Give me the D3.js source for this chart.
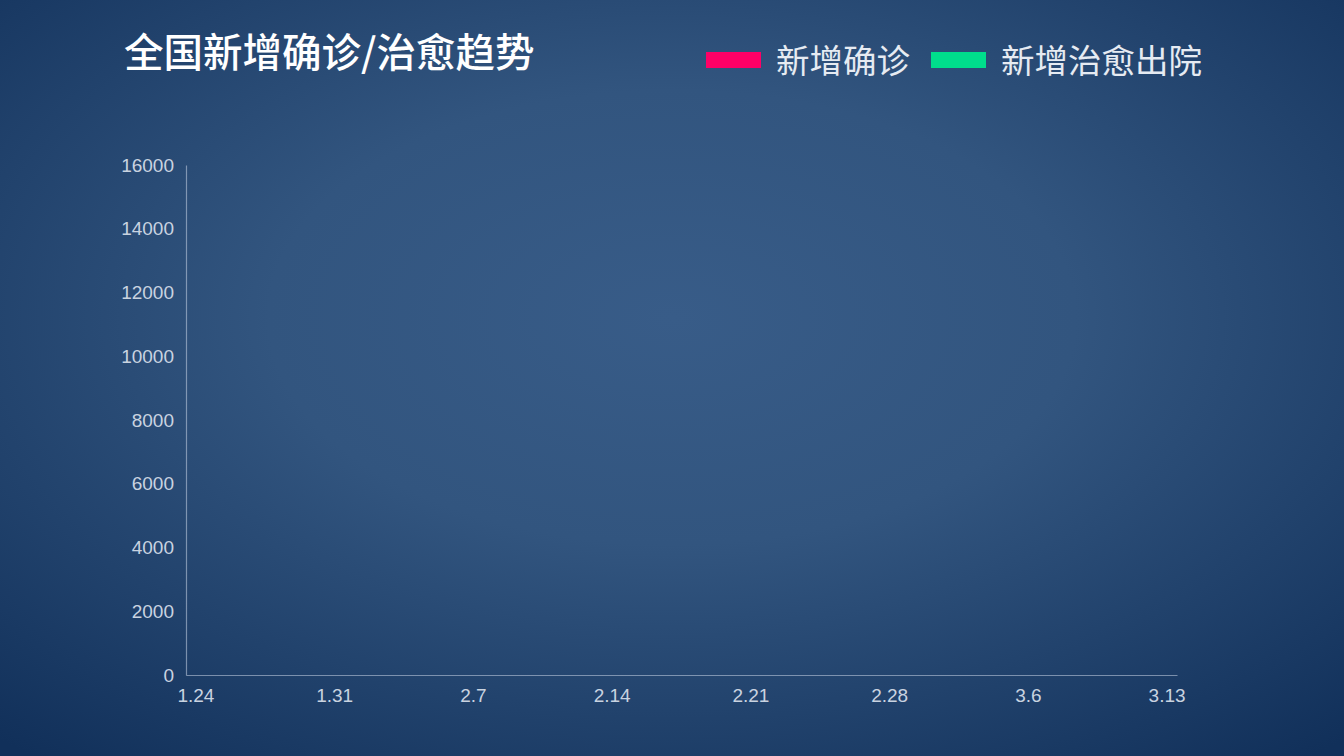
<!DOCTYPE html>
<html><head><meta charset="utf-8">
<script src="https://cdn.jsdelivr.net/npm/d3@7"></script>
<style>
html,body{margin:0;padding:0;width:1344px;height:756px;overflow:hidden;}
svg{display:block;}
</style></head>
<body>
<svg id="chart" width="1344" height="756"></svg>
<script>
const title = "全国新增确诊/治愈趋势";
const dates = ["1.24","1.25","1.26","1.27","1.28","1.29","1.30","1.31","2.1","2.2","2.3","2.4","2.5","2.6","2.7","2.8","2.9","2.10","2.11","2.12","2.13","2.14","2.15","2.16","2.17","2.18","2.19","2.20","2.21","2.22","2.23","2.24","2.25","2.26","2.27","2.28","2.29","3.1","3.2","3.3","3.4","3.5","3.6","3.7","3.8","3.9","3.10","3.11","3.12","3.13","3.14"];
const xTickLabels = ["1.24","1.31","2.7","2.14","2.21","2.28","3.6","3.13"];
const yTicks = [0,2000,4000,6000,8000,10000,12000,14000,16000];
const seriesNames = ["新增确诊","新增治愈出院"];
const seriesColors = ["#ff0066","#00dd8c"];
// the reference frame shows no plotted values yet
const confirmedValues = [];
const curedValues = [];

const svg = d3.select("#chart");
const W = 1344, H = 756;
const defs = svg.append("defs");
const grad = defs.append("radialGradient").attr("id","bg")
  .attr("cx","50%").attr("cy","42%").attr("r","75%");
grad.append("stop").attr("offset","0%").attr("stop-color","#385c88");
grad.append("stop").attr("offset","40%").attr("stop-color","#32557f");
grad.append("stop").attr("offset","100%").attr("stop-color","#11305a");
svg.append("rect").attr("width",W).attr("height",H).attr("fill","url(#bg)");

const m = {left:186, right:1177, top:165, bottom:675};
const x = d3.scaleBand().domain(dates.slice(0,50)).range([m.left, m.right]);
const y = d3.scaleLinear().domain([0,16000]).range([m.bottom, m.top]);

// title
svg.append("text").attr("x",124).attr("y",67)
  .attr("fill","#ffffff").attr("font-family","'Noto Sans CJK SC', sans-serif")
  .attr("font-size",39.5).attr("font-weight",500).text(title);

// legend
const leg = svg.append("g");
const legX = [706, 931];
seriesNames.forEach((n,i)=>{
  leg.append("rect").attr("x",legX[i]).attr("y",52).attr("width",55).attr("height",16).attr("fill",seriesColors[i]);
  leg.append("text").attr("x",legX[i]+70).attr("y",73)
    .attr("fill","#e6ebf2").attr("font-family","'Noto Sans CJK SC', sans-serif")
    .attr("font-size",33.5).text(n);
});

const tickFont = "'Liberation Sans', Arial, sans-serif";
// y axis
const yAxis = svg.append("g").attr("transform",`translate(${m.left},0)`)
  .call(d3.axisLeft(y).tickValues(yTicks).tickSize(0).tickPadding(12).tickFormat(d3.format("d")));
yAxis.select(".domain").attr("stroke","rgba(200,212,230,0.55)").attr("stroke-width",1.2);
yAxis.selectAll("text").attr("fill","#c9d3e0").attr("font-size",19).attr("font-family",tickFont);

// x axis
const xAxis = svg.append("g").attr("transform",`translate(0,${m.bottom})`)
  .call(d3.axisBottom(x).tickValues(xTickLabels).tickSize(0).tickPadding(14));
xAxis.select(".domain").attr("stroke","rgba(200,212,230,0.55)").attr("stroke-width",1.2);
xAxis.selectAll("text").attr("fill","#c9d3e0").attr("font-size",19).attr("font-family",tickFont);

// lines (empty in the reference frame)
const line = d3.line().x((d,i)=>x(dates[i])+x.bandwidth()/2).y(d=>y(d));
[confirmedValues, curedValues].forEach((vals,i)=>{
  if (vals.length) svg.append("path").datum(vals).attr("d",line)
    .attr("fill","none").attr("stroke",seriesColors[i]).attr("stroke-width",3);
});
</script>
</body></html>
